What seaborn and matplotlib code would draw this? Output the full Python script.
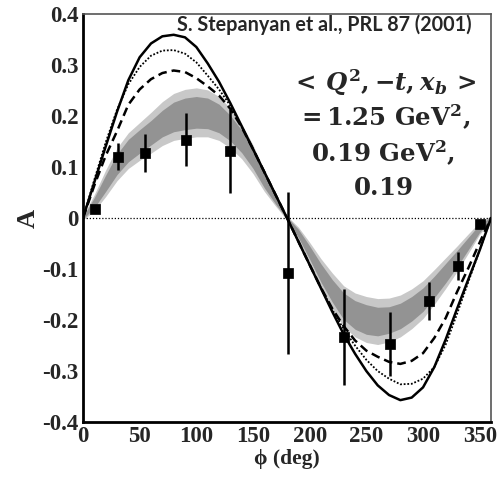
import numpy as np
import pandas as pd
import matplotlib
matplotlib.use("Agg")
import matplotlib.pyplot as plt
import seaborn as sns
from matplotlib.ticker import MultipleLocator

# ---------------- data ----------------
phi = list(range(0, 361, 10))

solid = [0.000, 0.070, 0.140, 0.208, 0.270, 0.315, 0.342, 0.356, 0.359, 0.354,
         0.335, 0.303, 0.267, 0.225, 0.180, 0.135, 0.090, 0.045, 0.000,
         -0.046, -0.092, -0.138, -0.184, -0.228, -0.266, -0.300, -0.328, -0.347,
         -0.357, -0.352, -0.332, -0.292, -0.238, -0.178, -0.120, -0.063, 0.000]

dotted = [0.000, 0.075, 0.148, 0.212, 0.262, 0.296, 0.318, 0.328, 0.329, 0.322,
          0.305, 0.279, 0.252, 0.220, 0.178, 0.135, 0.090, 0.045, 0.000,
          -0.046, -0.092, -0.137, -0.180, -0.218, -0.250, -0.278, -0.300, -0.315,
          -0.326, -0.325, -0.315, -0.292, -0.248, -0.188, -0.125, -0.063, 0.000]

dashed = [0.000, 0.064, 0.122, 0.170, 0.222, 0.252, 0.272, 0.284, 0.289, 0.286,
          0.274, 0.258, 0.240, 0.214, 0.178, 0.135, 0.090, 0.045, 0.000,
          -0.046, -0.092, -0.137, -0.178, -0.212, -0.240, -0.260, -0.272, -0.282,
          -0.286, -0.280, -0.265, -0.235, -0.196, -0.145, -0.098, -0.048, 0.000]

band_mid = [0.000, 0.030, 0.068, 0.105, 0.132, 0.150, 0.167, 0.185, 0.198, 0.204,
            0.207, 0.205, 0.195, 0.176, 0.150, 0.115, 0.072, 0.035, 0.000,
            -0.030, -0.068, -0.108, -0.143, -0.173, -0.190, -0.199, -0.203, -0.200,
            -0.192, -0.178, -0.160, -0.135, -0.108, -0.080, -0.050, -0.020, 0.000]

band_dark = [0.002, 0.010, 0.016, 0.020, 0.022, 0.023, 0.024, 0.026, 0.029, 0.031,
             0.031, 0.030, 0.028, 0.025, 0.022, 0.018, 0.013, 0.008, 0.002,
             0.008, 0.013, 0.018, 0.022, 0.026, 0.028, 0.029, 0.028, 0.026,
             0.025, 0.024, 0.023, 0.021, 0.019, 0.016, 0.012, 0.008, 0.002]

band_light = [0.004, 0.016, 0.026, 0.032, 0.035, 0.037, 0.040, 0.043, 0.046, 0.048,
              0.048, 0.046, 0.043, 0.039, 0.034, 0.028, 0.020, 0.012, 0.004,
              0.012, 0.020, 0.028, 0.035, 0.040, 0.043, 0.045, 0.045, 0.043,
              0.041, 0.039, 0.037, 0.034, 0.030, 0.025, 0.019, 0.012, 0.004]

phi_pts = [10.5, 30.5, 55, 90.5, 130, 180.5, 230, 271, 305, 331, 350]
A_pts = [0.018, 0.120, 0.127, 0.153, 0.131, -0.108, -0.233, -0.247, -0.163, -0.094, -0.012]
A_err = [0.007, 0.026, 0.037, 0.052, 0.082, 0.158, 0.094, 0.062, 0.037, 0.027, 0.006]

y_ticks = [0.4, 0.3, 0.2, 0.1, 0.0, -0.1, -0.2, -0.3, -0.4]
y_tick_labels = ["0.4", "0.3", "0.2", "0.1", "0", "-0.1", "-0.2", "-0.3", "-0.4"]
x_ticks = [0, 50, 100, 150, 200, 250, 300, 350]
x_tick_labels = ["0", "50", "100", "150", "200", "250", "300", "350"]

credit = "S. Stepanyan et al., PRL 87 (2001)"
kin_lines = [r"$<\,Q^{2},{-}t,x_{b}\,>$",
             r"$=1.25\ \mathrm{GeV}^{2},$",
             r"$0.19\ \mathrm{GeV}^{2},$",
             r"$0.19$"]

# ---------------- plotting ----------------
sns.set_style("white")
plt.rcParams["axes.unicode_minus"] = False
plt.rcParams["mathtext.fontset"] = "custom"
plt.rcParams["mathtext.rm"] = "DejaVu Serif:bold"
plt.rcParams["mathtext.it"] = "DejaVu Serif:italic:bold"
plt.rcParams["mathtext.bf"] = "DejaVu Serif:bold"

fig = plt.figure(figsize=(4.97, 4.78), dpi=100)
ax = fig.add_axes([0.167, 0.117, 0.821, 0.854])

df = pd.DataFrame({"phi": phi, "solid": solid, "dotted": dotted, "dashed": dashed,
                   "mid": band_mid, "dark": band_dark, "light": band_light})

# shaded band
ax.fill_between(df["phi"], df["mid"] - df["light"], df["mid"] + df["light"],
                color="#c8c8c8", lw=0, zorder=1)
ax.fill_between(df["phi"], df["mid"] - df["dark"], df["mid"] + df["dark"],
                color="#939393", lw=0, zorder=1.5)

# zero line
ax.axhline(0, color="black", lw=0.9, ls=(0, (1, 1.5)), zorder=2)

sns.lineplot(data=df, x="phi", y="solid", ax=ax, color="black", lw=1.8, zorder=3)
sns.lineplot(data=df, x="phi", y="dotted", ax=ax, color="black", lw=1.3,
             linestyle=(0, (1, 1)), zorder=3)
sns.lineplot(data=df, x="phi", y="dashed", ax=ax, color="black", lw=1.8,
             linestyle=(0, (3.5, 2)), zorder=3)

ax.errorbar(phi_pts, A_pts, yerr=A_err, fmt="none", ecolor="black", elinewidth=1.8,
            capsize=0, zorder=4)
sns.scatterplot(x=phi_pts, y=A_pts, ax=ax, marker="s", s=42, color="black",
                edgecolor="black", zorder=5)

ax.set_xlim(0, 360)
ax.set_ylim(-0.4, 0.4)
ax.set_xticks(x_ticks)
ax.set_xticklabels(x_tick_labels)
ax.set_yticks(y_ticks)
ax.set_yticklabels(y_tick_labels)
ax.xaxis.set_minor_locator(MultipleLocator(25))
ax.yaxis.set_minor_locator(MultipleLocator(0.02))
ax.tick_params(which="both", direction="in", top=False, right=False,
               color="black", width=1.4)
ax.tick_params(which="major", length=9, pad=3)
ax.tick_params(which="minor", length=5)
for lab in ax.get_xticklabels() + ax.get_yticklabels():
    lab.set_fontfamily(["Liberation Serif", "DejaVu Serif"])
    lab.set_fontweight("bold")
    lab.set_fontsize(16.5)

for side in ["left", "bottom"]:
    ax.spines[side].set_linewidth(2.0)
    ax.spines[side].set_color("black")
for side in ["top", "right"]:
    ax.spines[side].set_linewidth(1.2)
    ax.spines[side].set_color("#555555")
    ax.spines[side].set_visible(True)

ax.set_xlabel("\u03d5 (deg)", fontsize=15.5, fontweight="bold",
              family=["Liberation Serif", "DejaVu Serif"], labelpad=1)
ax.set_ylabel("A", fontsize=19, fontweight="bold",
              family=["Liberation Serif", "DejaVu Serif"], labelpad=2)

ax.text(343, 0.378, credit, ha="right", va="center", fontsize=14.2,
        fontweight="bold", family=["Lato", "DejaVu Sans"], zorder=6)
kin_y = [0.265, 0.198, 0.127, 0.059]
for t, yy in zip(kin_lines, kin_y):
    ax.text(265, yy, t, ha="center", va="center", fontsize=17.6, zorder=6)

fig.savefig("out.png", dpi=100)
